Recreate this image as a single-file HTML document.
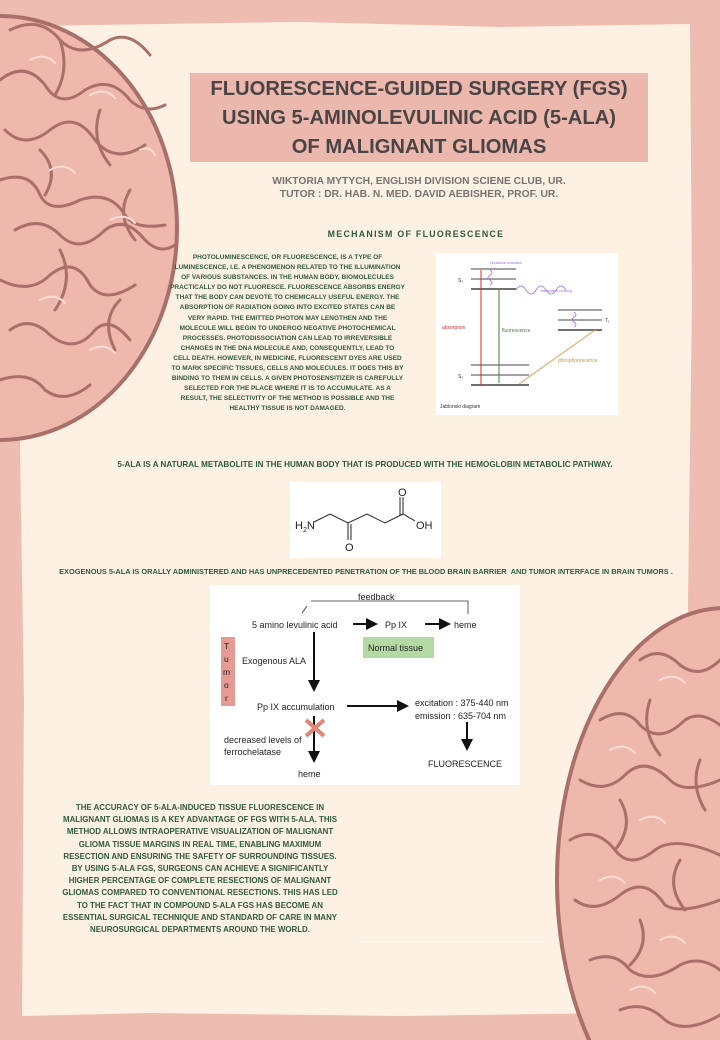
<!DOCTYPE html>
<html><head><meta charset="utf-8"><style>
html,body{margin:0;width:720px;height:1040px;overflow:hidden;}
body{background:#efbcb1;font-family:"Liberation Sans",sans-serif;position:relative;}
.abs{position:absolute;}
.g{color:#2f5a3b;font-weight:bold;text-align:center;white-space:nowrap;}
</style></head><body>
<div class="abs" style="left:0;top:0;width:720px;height:1040px;overflow:hidden;">
<svg width="720" height="1040" class="abs" style="left:0;top:0;overflow:hidden">
<polygon points="28,26 300,22 500,27 690,24 692,300 688,600 691,1012 400,1016 150,1013 22,1016 24,700 20,450" fill="#fdf1e3"/>
<g>
<ellipse cx="0" cy="228" rx="177" ry="212" fill="#efb8ad" stroke="#a9706a" stroke-width="4"/>
<g fill="none" stroke="#a9706a" stroke-width="3" stroke-linecap="round">
<path d="M10,30 q30,-15 50,10 q20,20 50,0 q20,-10 40,15"/>
<path d="M0,80 q25,-20 45,5 q15,25 40,5 q25,-15 45,10 q15,15 35,5"/>
<path d="M5,130 q20,20 45,0 q25,-20 45,10 q20,25 50,5"/>
<path d="M0,180 q30,-10 40,15 q10,20 40,5 q30,-10 45,15 q10,15 40,10"/>
<path d="M15,230 q25,-15 45,5 q20,20 45,-5 q20,-15 40,10 q15,15 30,5"/>
<path d="M0,280 q30,15 50,-5 q25,-20 40,10 q15,20 45,0"/>
<path d="M10,330 q20,-15 40,5 q25,20 45,-5 q15,-15 35,10"/>
<path d="M0,380 q30,-10 45,10 q20,15 45,-5"/>
<path d="M60,40 q10,30 -5,55 M100,110 q-10,30 10,55 M130,190 q-15,25 5,50 M60,250 q15,30 -5,60 M120,300 q-20,20 -5,50 M40,150 q20,20 5,45"/>
</g>
<g fill="none" stroke="#f8dcd5" stroke-width="2" stroke-linecap="round">
<path d="M30,60 q15,-8 25,3 M90,95 q15,-8 25,3 M50,170 q15,-8 25,3 M110,220 q15,-8 25,3 M40,300 q15,-8 25,3 M90,350 q15,-8 25,3 M140,150 q10,-5 15,5"/>
</g>
</g>
<g>
<ellipse cx="725" cy="880" rx="168" ry="272" fill="#efb8ad" stroke="#a9706a" stroke-width="4"/>
<g fill="none" stroke="#a9706a" stroke-width="3" stroke-linecap="round">
<path d="M640,660 q20,-15 40,5 q20,15 40,-5"/>
<path d="M600,720 q25,-15 40,5 q20,20 45,-5 q15,-10 35,5"/>
<path d="M580,780 q25,15 45,-5 q20,-20 45,5 q15,15 50,0"/>
<path d="M570,840 q25,-15 45,10 q15,20 40,0 q20,-15 65,5"/>
<path d="M575,900 q20,15 45,-5 q25,-20 45,10 q15,10 55,-5"/>
<path d="M590,960 q25,-10 40,10 q20,15 50,-5 q20,-10 40,5"/>
<path d="M620,1010 q25,-10 45,10 q20,15 55,-5"/>
<path d="M650,700 q-10,30 10,55 M620,800 q15,25 -5,50 M680,860 q-15,25 5,50 M640,920 q10,25 -10,45 M700,760 q-10,25 5,50"/>
</g>
<g fill="none" stroke="#f8dcd5" stroke-width="2" stroke-linecap="round">
<path d="M660,680 q15,-8 25,3 M610,750 q15,-8 25,3 M640,820 q15,-8 25,3 M600,880 q15,-8 25,3 M660,940 q15,-8 25,3 M630,990 q15,-8 25,3"/>
</g>
</g>
</svg>
</div>

<div class="abs" style="left:190px;top:73px;width:458px;height:89px;background:#ecb8ae;"></div>
<div class="abs" style="left:180px;top:73px;width:478px;text-align:center;color:#4a4444;font-weight:bold;font-size:20.2px;line-height:29px;padding-top:2px;white-space:nowrap;">FLUORESCENCE-GUIDED SURGERY (FGS)<br>USING 5-AMINOLEVULINIC ACID (5-ALA)<br>OF MALIGNANT GLIOMAS</div>
<div class="abs" style="left:180px;top:175px;width:478px;text-align:center;color:#7a7270;font-weight:bold;font-size:10.3px;line-height:13px;white-space:nowrap;">WIKTORIA MYTYCH, ENGLISH DIVISION SCIENE CLUB, UR.<br>TUTOR : DR. HAB. N. MED. DAVID AEBISHER, PROF. UR.</div>
<div class="abs g" style="left:300px;top:229px;width:232px;font-size:8.8px;letter-spacing:1.3px;">MECHANISM OF FLUORESCENCE</div>

<div class="abs g" style="left:160px;top:253px;width:255px;font-size:6.5px;line-height:10.1px;">PHOTOLUMINESCENCE, OR FLUORESCENCE, IS A TYPE OF<br>LUMINESCENCE, I.E. A PHENOMENON RELATED TO THE ILLUMINATION<br>OF VARIOUS SUBSTANCES. IN THE HUMAN BODY, BIOMOLECULES<br>PRACTICALLY DO NOT FLUORESCE. FLUORESCENCE ABSORBS ENERGY<br>THAT THE BODY CAN DEVOTE TO CHEMICALLY USEFUL ENERGY. THE<br>ABSORPTION OF RADIATION GOING INTO EXCITED STATES CAN BE<br>VERY RAPID. THE EMITTED PHOTON MAY LENGTHEN AND THE<br>MOLECULE WILL BEGIN TO UNDERGO NEGATIVE PHOTOCHEMICAL<br>PROCESSES. PHOTODISSOCIATION CAN LEAD TO IRREVERSIBLE<br>CHANGES IN THE DNA MOLECULE AND, CONSEQUENTLY, LEAD TO<br>CELL DEATH. HOWEVER, IN MEDICINE, FLUORESCENT DYES ARE USED<br>TO MARK SPECIFIC TISSUES, CELLS AND MOLECULES. IT DOES THIS BY<br>BINDING TO THEM IN CELLS. A GIVEN PHOTOSENSITIZER IS CAREFULLY<br>SELECTED FOR THE PLACE WHERE IT IS TO ACCUMULATE. AS A<br>RESULT, THE SELECTIVITY OF THE METHOD IS POSSIBLE AND THE<br>HEALTHY TISSUE IS NOT DAMAGED.</div>

<svg class="abs" style="left:436px;top:253px" width="182" height="162" viewBox="436 253 182 162">
<rect x="436" y="253" width="182" height="162" fill="#fff"/>
<g stroke="#444" stroke-width="1"><line x1="471" y1="269" x2="516" y2="269"/><line x1="471" y1="279" x2="516" y2="279"/><line x1="471" y1="289" x2="516" y2="289" stroke-width="1.5"/>
<line x1="471" y1="365" x2="529" y2="365"/><line x1="471" y1="375" x2="529" y2="375"/><line x1="471" y1="385" x2="529" y2="385" stroke-width="1.5"/>
<line x1="558" y1="310" x2="602" y2="310"/><line x1="558" y1="320" x2="602" y2="320"/><line x1="558" y1="330" x2="602" y2="330" stroke-width="1.5"/></g>
<line x1="481" y1="385" x2="481" y2="270" stroke="#c33" stroke-width="1"/>
<line x1="499" y1="289" x2="499" y2="383" stroke="#4a7a3a" stroke-width="1"/>
<line x1="595" y1="330" x2="519" y2="384" stroke="#e0a050" stroke-width="1"/>
<path d="M490,270 q4,3 0,5 q-4,3 0,5 q4,3 0,5 M516,290 q5,-8 10,0 q5,8 10,0 q5,-8 10,0 q5,8 10,0 q5,-8 10,0 M574,312 q4,3 0,5 q-4,3 0,5 q4,3 0,5" fill="none" stroke="#a070d0" stroke-width="0.8"/>
<g font-size="5" font-family="Liberation Sans,sans-serif"><text x="458" y="282" fill="#333">S₁</text><text x="458" y="378" fill="#333">S₀</text><text x="605" y="322" fill="#333">T₁</text>
<text x="442" y="329" fill="#c33">absorption</text><text x="502" y="332" fill="#4a7a3a">fluorescence</text><text x="558" y="362" fill="#d09040">phosphorescence</text>
<text x="490" y="264" fill="#a070d0" font-size="3.5">vibrational relaxation</text><text x="540" y="292" fill="#a070d0" font-size="3.5">intersystem crossing</text>
<text x="440" y="408" fill="#333">Jablonski diagram</text></g>
</svg>

<div class="abs g" style="left:30px;top:460px;width:670px;font-size:8.1px;">5-ALA IS A NATURAL METABOLITE IN THE HUMAN BODY THAT IS PRODUCED WITH THE HEMOGLOBIN METABOLIC PATHWAY.</div>

<svg class="abs" style="left:290px;top:482px" width="151" height="76" viewBox="290 482 151 76">
<rect x="290" y="482" width="151" height="76" fill="#fff"/>
<g stroke="#222" stroke-width="1" fill="none"><polyline points="314,522 330,514 348,523 367,514 385,523 403,514 415,521"/>
<line x1="348" y1="523" x2="348" y2="540"/><line x1="351" y1="524" x2="351" y2="540"/>
<line x1="403" y1="514" x2="403" y2="497"/><line x1="400" y1="515" x2="400" y2="497"/></g>
<g font-size="11" font-family="Liberation Sans,sans-serif" fill="#222"><text x="295" y="529">H<tspan font-size="7" dy="3">2</tspan><tspan dy="-3">N</tspan></text>
<text x="345" y="551">O</text><text x="398" y="496">O</text><text x="416" y="529">OH</text></g>
</svg>

<div class="abs g" style="left:20px;top:567px;width:692px;font-size:7.4px;">EXOGENOUS 5-ALA IS ORALLY ADMINISTERED AND HAS UNPRECEDENTED PENETRATION OF THE BLOOD BRAIN BARRIER &nbsp;AND TUMOR INTERFACE IN BRAIN TUMORS .</div>

<svg class="abs" style="left:210px;top:585px" width="310" height="200" viewBox="210 585 310 200">
<defs><marker id="a" markerWidth="6" markerHeight="6" refX="5" refY="3" orient="auto"><path d="M0,0 L6,3 L0,6 z" fill="#111"/></marker></defs>
<rect x="210" y="585" width="310" height="200" fill="#fff"/>
<rect x="363" y="637" width="71" height="21" fill="#b5d9a5"/>
<rect x="221" y="637" width="14" height="69" fill="#e59a94"/>
<g stroke="#333" stroke-width="0.8" fill="none"><polyline points="468,614 468,601 311,601"/><line x1="307" y1="606" x2="302" y2="613"/></g>
<g stroke="#111" stroke-width="2" marker-end="url(#a)"><line x1="353" y1="624" x2="376" y2="624"/><line x1="425" y1="624" x2="449" y2="624"/>
<line x1="314" y1="632" x2="314" y2="690"/><line x1="347" y1="706" x2="407" y2="706"/><line x1="467" y1="722" x2="467" y2="749"/><line x1="314" y1="716" x2="314" y2="761"/></g>
<g stroke="#e0877a" stroke-width="4"><line x1="306" y1="720" x2="324" y2="736"/><line x1="306" y1="736" x2="324" y2="720"/></g>
<g font-size="9" font-family="Liberation Sans,sans-serif" fill="#222">
<text x="358" y="600">feedback</text><text x="252" y="628">5 amino levulinic acid</text><text x="385" y="628">Pp IX</text><text x="454" y="628">heme</text>
<text x="368" y="651">Normal tissue</text><text x="242" y="664">Exogenous ALA</text><text x="257" y="710">Pp IX accumulation</text>
<text x="415" y="706">excitation : 375-440 nm</text><text x="415" y="719">emission : 635-704 nm</text>
<text x="224" y="743">decreased levels of</text><text x="224" y="755">ferrochelatase</text><text x="298" y="777">heme</text><text x="428" y="767">FLUORESCENCE</text>
<g font-size="8.5"><text x="224" y="649">T</text><text x="224" y="662">u</text><text x="223" y="675">m</text><text x="224" y="688">o</text><text x="225" y="701">r</text></g></g>
</svg>

<div class="abs g" style="left:30px;top:802px;width:340px;font-size:7.9px;line-height:12.2px;">THE ACCURACY OF 5-ALA-INDUCED TISSUE FLUORESCENCE IN<br>MALIGNANT GLIOMAS IS A KEY ADVANTAGE OF FGS WITH 5-ALA. THIS<br>METHOD ALLOWS INTRAOPERATIVE VISUALIZATION OF MALIGNANT<br>GLIOMA TISSUE MARGINS IN REAL TIME, ENABLING MAXIMUM<br>RESECTION AND ENSURING THE SAFETY OF SURROUNDING TISSUES.<br>BY USING 5-ALA FGS, SURGEONS CAN ACHIEVE A SIGNIFICANTLY<br>HIGHER PERCENTAGE OF COMPLETE RESECTIONS OF MALIGNANT<br>GLIOMAS COMPARED TO CONVENTIONAL RESECTIONS. THIS HAS LED<br>TO THE FACT THAT IN COMPOUND 5-ALA FGS HAS BECOME AN<br>ESSENTIAL SURGICAL TECHNIQUE AND STANDARD OF CARE IN MANY<br>NEUROSURGICAL DEPARTMENTS AROUND THE WORLD.</div>
<div class="abs" style="left:360px;top:941px;width:185px;height:1px;background:#fff;"></div>
</body></html>
